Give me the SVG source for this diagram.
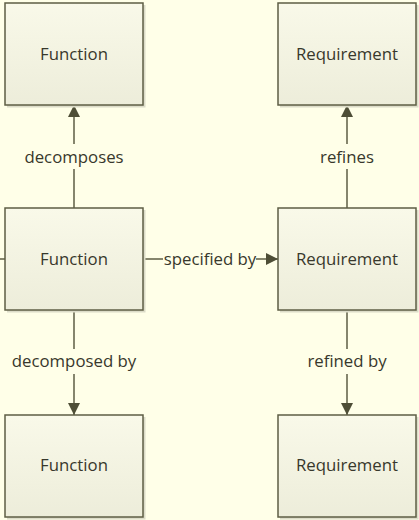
<svg xmlns="http://www.w3.org/2000/svg" width="419" height="520" viewBox="0 0 419 520">
  <style>
    .box { fill: url(#boxFill); stroke: #5E5E44; stroke-width: 1.5; }
    .shadow { fill: #DCDCC8; }
    .name { font-family: "Open Sans", "Liberation Sans", sans-serif; font-size: 16.8px; fill: #38382C; text-anchor: middle; dominant-baseline: central; }
    .edge { stroke: #5E5E44; stroke-width: 1.5; fill: none; }
    .lbl { font-family: "Open Sans", "Liberation Sans", sans-serif; font-size: 16.8px; fill: #38382C; text-anchor: middle; dominant-baseline: central; }
    .lblbg { fill: #FFFFE8; }
  </style>
  <defs>
    <linearGradient id="boxFill" x1="0" y1="0" x2="0" y2="1">
      <stop offset="0" stop-color="#F9F9E9"/>
      <stop offset="1" stop-color="#EDEDDA"/>
    </linearGradient>
    <marker id="arrow" viewBox="0 0 12 12" refX="12" refY="6" markerWidth="12" markerHeight="12" markerUnits="userSpaceOnUse" orient="auto">
      <path d="M0,0 L12,6 L0,12 Z" fill="#4E4E36"/>
    </marker>
  </defs>

  <rect width="419" height="520" fill="#FFFFE8"/>

  <!-- connectors -->
  <g id="connectors">
    <line class="edge" x1="0" y1="259" x2="5" y2="259"/>
    <line class="edge" x1="74" y1="208" x2="74" y2="105" marker-end="url(#arrow)"/>
    <line class="edge" x1="74" y1="310" x2="74" y2="415" marker-end="url(#arrow)"/>
    <line class="edge" x1="347" y1="208" x2="347" y2="105" marker-end="url(#arrow)"/>
    <line class="edge" x1="347" y1="310" x2="347" y2="415" marker-end="url(#arrow)"/>
    <line class="edge" x1="143" y1="259" x2="278" y2="259" marker-end="url(#arrow)"/>

    <rect class="lblbg" x="18" y="144" width="112" height="25"/>
    <text class="lbl" x="74" y="156">decomposes</text>
    <rect class="lblbg" x="8" y="349" width="132" height="25"/>
    <text class="lbl" x="74" y="360">decomposed by</text>
    <rect class="lblbg" x="312" y="144" width="70" height="25"/>
    <text class="lbl" x="347" y="156">refines</text>
    <rect class="lblbg" x="302" y="349" width="90" height="25"/>
    <text class="lbl" x="347" y="360">refined by</text>
    <rect class="lblbg" x="163" y="250" width="93" height="18"/>
    <text class="lbl" x="210" y="258">specified by</text>
  </g>

  <g id="function-top">
    <rect class="shadow" x="7" y="5" width="138.5" height="102.5"/>
    <rect class="box" x="5" y="3" width="138" height="102"/>
    <text class="name" x="74" y="53">Function</text>
  </g>
  <g id="function-mid">
    <rect class="shadow" x="7" y="210" width="138.5" height="102.5"/>
    <rect class="box" x="5" y="208" width="138" height="102"/>
    <text class="name" x="74" y="258">Function</text>
  </g>
  <g id="function-bottom">
    <rect class="shadow" x="7" y="417" width="138.5" height="102.5"/>
    <rect class="box" x="5" y="415" width="138" height="102"/>
    <text class="name" x="74" y="464">Function</text>
  </g>
  <g id="requirement-top">
    <rect class="shadow" x="280" y="5" width="138.5" height="102.5"/>
    <rect class="box" x="278" y="3" width="138" height="102"/>
    <text class="name" x="347" y="53">Requirement</text>
  </g>
  <g id="requirement-mid">
    <rect class="shadow" x="280" y="210" width="138.5" height="102.5"/>
    <rect class="box" x="278" y="208" width="138" height="102"/>
    <text class="name" x="347" y="258">Requirement</text>
  </g>
  <g id="requirement-bottom">
    <rect class="shadow" x="280" y="417" width="138.5" height="102.5"/>
    <rect class="box" x="278" y="415" width="138" height="102"/>
    <text class="name" x="347" y="464">Requirement</text>
  </g>
</svg>
